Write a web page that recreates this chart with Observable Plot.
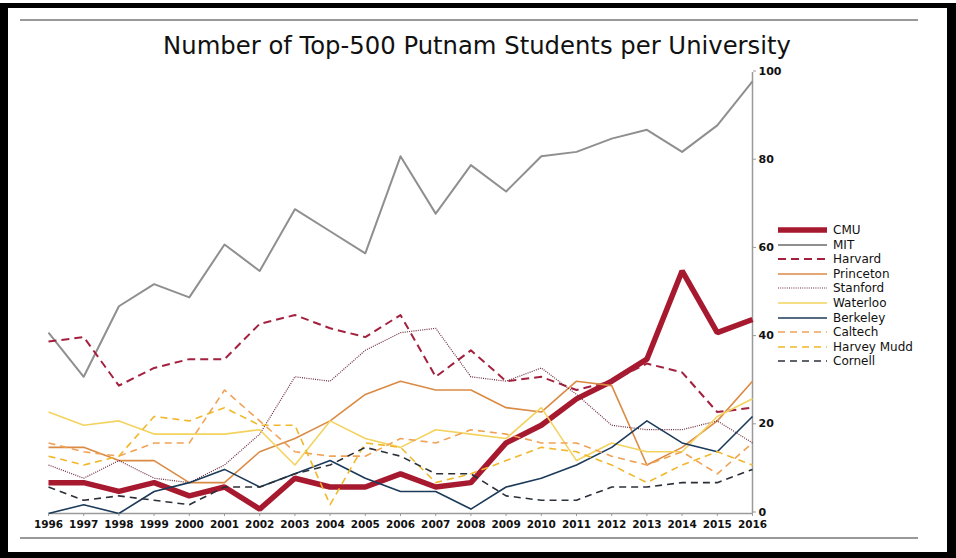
<!DOCTYPE html>
<html>
<head>
<meta charset="utf-8">
<script src="https://cdn.jsdelivr.net/npm/d3@7"></script>
<script src="https://cdn.jsdelivr.net/npm/@observablehq/plot@0.6"></script>
<style>
  body { margin: 0; background: #fff; }
  #wrap { position: relative; width: 956px; height: 558px; overflow: hidden; font-family: "DejaVu Sans", sans-serif; background: #fff; }
  #frame { position: absolute; left: 0; top: 3px; right: 0; bottom: 0; border-style: solid; border-color: #000; border-width: 5px 9px 6px 8px; box-sizing: border-box; pointer-events: none; }
  .rule { position: absolute; left: 20px; width: 898px; height: 2px; background: #999; }
  #title { position: absolute; left: 0; width: 954px; top: 34px; text-align: center; font-size: 24.3px; line-height: 24px; color: #111; }
  #chart { position: absolute; left: 0; top: 0; }
  #legend { position: absolute; left: 778px; top: 0; }
  .lrow { position: absolute; left: 0; height: 14px; white-space: nowrap; }
  .lrow svg { position: absolute; left: 0; top: 0; }
  .lrow span { position: absolute; left: 55px; top: 0; font-size: 12px; line-height: 14px; color: #111; }
</style>
</head>
<body>
<div id="wrap">
  <div id="frame"></div>
  <div class="rule" style="top:19px"></div>
  <div class="rule" style="top:537px"></div>
  <div id="chart"></div>
  <div id="title">Number of Top-500 Putnam Students per University</div>
  <div id="legend"></div>
</div>
<script>
// ---- data ----
const years = [1996, 1997, 1998, 1999, 2000, 2001, 2002, 2003, 2004, 2005, 2006, 2007, 2008, 2009, 2010, 2011, 2012, 2013, 2014, 2015, 2016];
const schools = ["CMU", "MIT", "Harvard", "Princeton", "Stanford", "Waterloo", "Berkeley", "Caltech", "Harvey Mudd", "Cornell"];
const cmu        = [7, 7, 5, 7, 4, 6, 1, 8, 6, 6, 9, 6, 7, 16, 20, 26, 30, 35, 55, 41, 44];
const mit        = [41, 31, 47, 52, 49, 61, 55, 69, 64, 59, 81, 68, 79, 73, 81, 82, 85, 87, 82, 88, 98];
const harvard    = [39, 40, 29, 33, 35, 35, 43, 45, 42, 40, 45, 31, 37, 30, 31, 28, 30, 34, 32, 23, 24];
const princeton  = [15, 15, 12, 12, 7, 7, 14, 17, 21, 27, 30, 28, 28, 24, 23, 30, 29, 11, 15, 21, 30];
const stanford   = [11, 8, 12, 8, 7, 11, 18, 31, 30, 37, 41, 42, 31, 30, 33, 27, 20, 19, 19, 21, 16];
const waterloo   = [23, 20, 21, 18, 18, 18, 19, 11, 21, 17, 15, 19, 18, 17, 24, 12, 16, 14, 14, 22, 26];
const berkeley   = [0, 2, 0, 5, 7, 10, 6, 9, 12, 8, 5, 5, 1, 6, 8, 11, 15, 21, 16, 14, 22];
const caltech    = [16, 14, 13, 16, 16, 28, 21, 14, 13, 13, 17, 16, 19, 18, 16, 16, 13, 11, 14, 9, 16];
const harveyMudd = [13, 11, 13, 22, 21, 24, 20, 20, 2, 16, 15, 7, 9, 12, 15, 14, 11, 7, 11, 14, 11];
const cornell    = [6, 3, 4, 3, 2, 6, 6, 9, 11, 15, 13, 9, 9, 4, 3, 3, 6, 6, 7, 7, 10];
const yTicks = [0, 20, 40, 60, 80, 100];
const xTicks = years;

// ---- styles ----
const seriesValues = [cmu, mit, harvard, princeton, stanford, waterloo, berkeley, caltech, harveyMudd, cornell];
const colors = ["#a6192e", "#8f8f8f", "#a3213f", "#db8a44", "#6e2a3a", "#f3d35e", "#1c3a5a", "#f0a256", "#f0b82a", "#2b2f38"];
const widths = [5.5, 2, 2, 1.6, 1.2, 1.6, 1.6, 1.6, 1.6, 1.6];
const dashes = [null, null, "8,5", null, "1,1.2", null, null, "7,5", "7,5", "7,5"];

const rows = schools.flatMap((s, i) => years.map((yr, j) => ({school: s, year: yr, value: seriesValues[i][j]})));

const lineMarks = schools.map((s, i) => Plot.line(rows.filter(d => d.school === s), {
  x: "year", y: "value",
  stroke: colors[i], strokeWidth: widths[i],
  strokeDasharray: dashes[i] || undefined,
  strokeLinejoin: i === 0 ? "miter" : "round",
  strokeLinecap: "butt"
}));

const chart = Plot.plot({
  width: 956, height: 558,
  marginLeft: 48, marginRight: 204, marginTop: 72, marginBottom: 45,
  x: {domain: [1996, 2016]},
  y: {domain: [0, 100]},
  style: {fontFamily: "DejaVu Sans", background: "transparent", overflow: "visible"},
  marks: [
    Plot.ruleY([0], {x1: 1996, x2: 2016, stroke: "#9a9a9a", strokeWidth: 1.5}),
    Plot.ruleX([2016], {y1: 0, y2: 100, stroke: "#9a9a9a", strokeWidth: 1.5}),
    ...lineMarks,
    Plot.axisX({ticks: xTicks, tickFormat: d => String(d), tickSize: 3, tickPadding: 4, fontSize: 10.5, fontWeight: "bold", stroke: "#9a9a9a", fill: "#111", label: null}),
    Plot.axisY({anchor: "right", ticks: yTicks, tickSize: 3, tickPadding: 3, fontSize: 11, fontWeight: "bold", stroke: "#9a9a9a", fill: "#111", label: null, dy: -1.5})
  ]
});
document.getElementById("chart").appendChild(chart);

// ---- legend ----
const legend = d3.select("#legend");
schools.forEach((s, i) => {
  const row = legend.append("div").attr("class", "lrow").style("top", (223 + i * 14.6) + "px");
  const svg = row.append("svg").attr("width", 50).attr("height", 14);
  svg.append("line")
    .attr("x1", 0).attr("x2", 49).attr("y1", 7).attr("y2", 7)
    .attr("stroke", colors[i]).attr("stroke-width", widths[i])
    .attr("stroke-dasharray", dashes[i]);
  row.append("span").text(s);
});
</script>
</body>
</html>
